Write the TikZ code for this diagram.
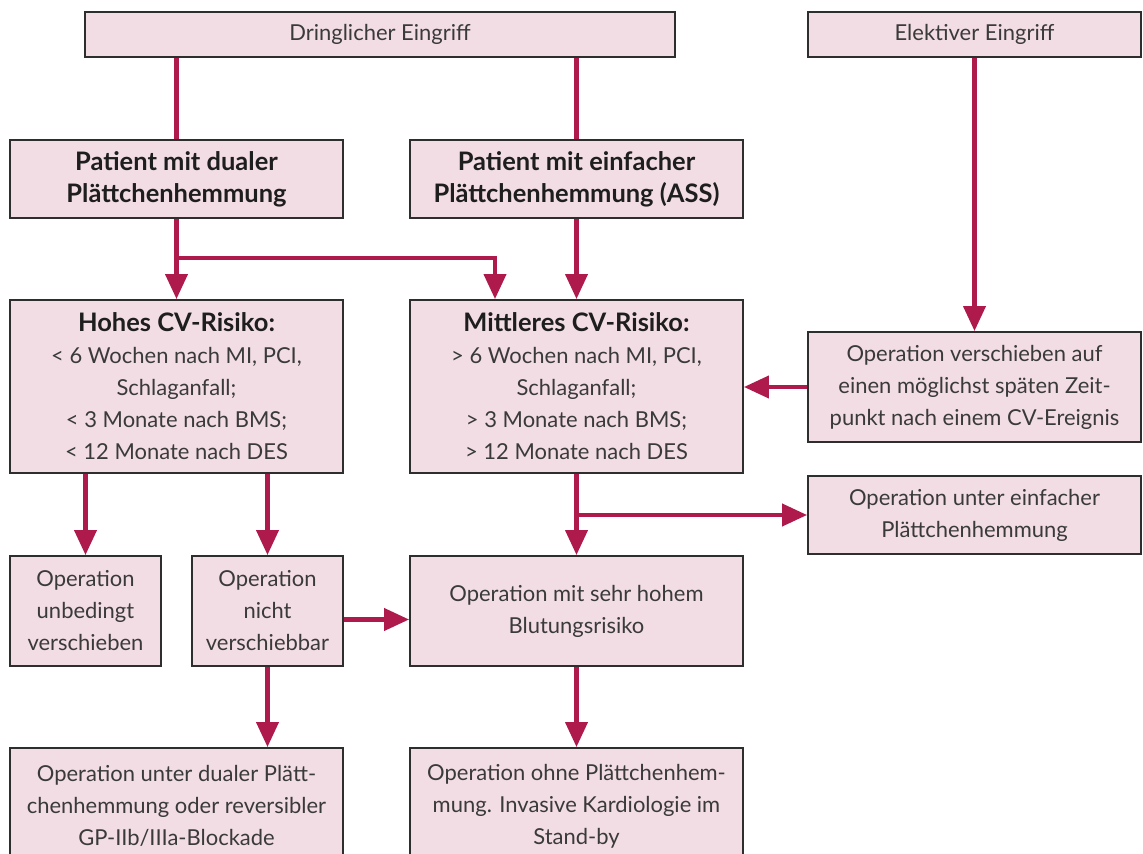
\documentclass[tikz,border=0pt]{standalone}
\usepackage{fontspec}
\setmainfont{Lato}
\usepackage{tikz}
\usetikzlibrary{ arrows.meta, % For the arrow tips
                 positioning, % For easy node-relative placements
               }
\definecolor{boxfill}{HTML}{F2DDE4}
\definecolor{boxline}{HTML}{2E2E2E}
\definecolor{arrowred}{HTML}{AE1A4B}
\definecolor{txtgray}{HTML}{3A3A3A}
\definecolor{headblack}{HTML}{1E1E1E}

\newcommand{\headline}[1]{{\fontsize{14.5}{18.2}\selectfont\bfseries\color{headblack}#1}}

\tikzset{
  box/.style={draw=boxline, fill=boxfill, line width=1.1pt, text=txtgray,
              align=center, inner sep=0pt, font=\fontsize{12.5}{18.2}\selectfont},
  wide/.style={box, minimum width=6.66cm},
  narrow/.style={box, minimum width=3.02cm},
  link/.style={draw=arrowred, line width=2.3pt},
  flow/.style={link, -{Triangle[length=0.5cm, width=0.44cm]}},
}

\begin{document}
\begin{tikzpicture}[x=0.02cm, y=-0.02cm]
    \useasboundingbox (0,0) rectangle (1143,854);
    % top row
    \node[box, minimum width=11.8cm, minimum height=0.9cm] (urgent) at (380,34.5) {Dringlicher Eingriff};
    \node[wide, minimum height=0.9cm] (elective) at (974.5,34.5) {Elektiver Eingriff};
    % patient boxes
    \node[wide, minimum height=1.56cm] (dual) at (176.5,179) {\headline{Patient mit dualer}\\\headline{Plättchenhemmung}};
    \node[wide, minimum height=1.56cm] (single) at (576.5,179) {\headline{Patient mit einfacher}\\\headline{Plättchenhemmung (ASS)}};
    % risk boxes
    \node[wide, minimum height=3.46cm] (high) at (176.5,386.5) {\headline{Hohes CV-Risiko:}\\< 6 Wochen nach MI, PCI,\\Schlaganfall;\\< 3 Monate nach BMS;\\< 12 Monate nach DES};
    \node[wide, minimum height=3.46cm] (mid) at (576.5,386.5) {\headline{Mittleres CV-Risiko:}\\> 6 Wochen nach MI, PCI,\\Schlaganfall;\\> 3 Monate nach BMS;\\> 12 Monate nach DES};
    \node[wide, minimum height=2.2cm] (postpone) at (974.5,387) {Operation verschieben auf\\einen möglichst späten Zeit-\\punkt nach einem CV-Ereignis};
    \node[wide, minimum height=1.56cm] (simple) at (974.5,515) {Operation unter einfacher\\Plättchenhemmung};
    % decisions
    \node[narrow, minimum height=2.2cm] (delay) at (85.5,611) {Operation\\unbedingt\\verschieben};
    \node[narrow, minimum height=2.2cm] (fixed) at (267.5,611) {Operation\\nicht\\verschiebbar};
    \node[wide, minimum height=2.2cm] (bleed) at (576.5,611) {Operation mit sehr hohem\\Blutungsrisiko};
    % bottom row
    \node[wide, minimum height=2.32cm] (dualop) at (176.5,806) {Operation unter dualer Plätt-\\chenhemmung oder reversibler\\GP-IIb/IIIa-Blockade};
    \node[wide, minimum height=2.32cm] (noneop) at (576.5,806) {Operation ohne Plättchenhem-\\mung. Invasive Kardiologie im\\Stand-by};
    \coordinate (split) at (495,258);

    \draw[link] (urgent.south -| dual.north) -- (dual.north);
    \draw[link] (urgent.south -| single.north) -- (single.north);
    \draw[flow] (elective.south) -- (postpone.north);
    \draw[flow] (dual.south) -- (high.north);
    \draw[flow] (dual.south |- split) -- (split) -- (split |- mid.north);
    \draw[flow] (single.south) -- (mid.north);
    \draw[flow] (postpone.west) -- (postpone.west -| mid.east);
    \draw[flow] (high.south -| delay.north) -- (delay.north);
    \draw[flow] (high.south -| fixed.north) -- (fixed.north);
    \draw[flow] (mid.south) -- (bleed.north);
    \draw[flow] (mid.south |- simple.west) -- (simple.west);
    \draw[flow] ([yshift=-0.17cm]fixed.east) -- ([yshift=-0.17cm]fixed.east -| bleed.west);
    \draw[flow] (fixed.south) -- (fixed.south |- dualop.north);
    \draw[flow] (bleed.south) -- (noneop.north);
  \end{tikzpicture}
\end{document}
